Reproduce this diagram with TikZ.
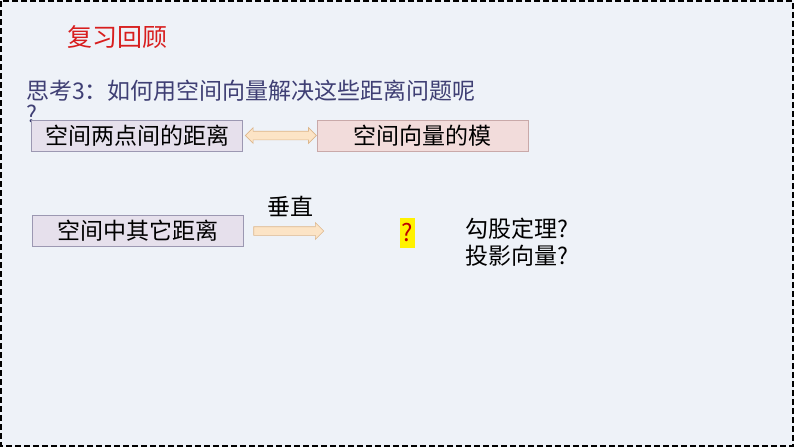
\documentclass[tikz,border=0pt]{standalone}
\usepackage{fontspec}
\usepackage{tikz}
\usetikzlibrary{positioning,shapes.arrows}
\setmainfont{Noto Sans CJK SC}
\definecolor{bgblue}{HTML}{EEF2F8}
\definecolor{lav}{HTML}{E6E0EC}
\definecolor{lavline}{HTML}{9C98B2}
\definecolor{rose}{HTML}{F2DCDB}
\definecolor{roseline}{HTML}{C9A9A9}
\definecolor{peach}{HTML}{FCE4C6}
\definecolor{peachline}{HTML}{DDB78C}
\definecolor{slate}{HTML}{3F3F74}
\definecolor{titlered}{HTML}{D81E1E}
\tikzstyle{block} = [rectangle, draw=lavline, fill=lav, line width=0.8pt, minimum width=211pt, minimum height=31pt, inner sep=0pt, font=\fontsize{23}{27}\selectfont]
\tikzstyle{fat} = [draw=peachline, fill=peach, line width=0.6pt, inner sep=0pt, text height=4pt, text depth=4pt, minimum width=0pt]

\begin{document}
\begin{tikzpicture}[node distance=1pt]
  \useasboundingbox (0pt,0pt) rectangle (794pt,-447pt);
  \fill[bgblue] (0pt,0pt) rectangle (794pt,-447pt);
  \draw[dashed, line width=1.3pt, dash pattern=on 6pt off 3pt] (1pt,-1pt) rectangle (793pt,-446pt);
  \draw (67pt,-37pt)node[anchor=west, text=titlered, inner sep=0pt, font=\fontsize{25}{28}\selectfont](0){复习回顾};
  \draw (26pt,-101pt)node[anchor=west, text=slate, align=left, inner sep=0pt, font=\fontsize{23}{23}\selectfont](1){思考3：如何用空间向量解决这些距离问题呢\\?};
  \draw (137pt,-135.5pt)node[block](2){空间两点间的距离};
  \draw (422.5pt,-135.5pt)node[block, draw=roseline, fill=rose](3){空间向量的模};
  \draw (137.5pt,-231pt)node[block](4){空间中其它距离};
  \node[fat, double arrow, double arrow head extend=3.5pt, minimum height=71pt, right=2pt of 2](5){};
  \node[fat, single arrow, single arrow head extend=4pt, minimum height=70pt, right=10pt of 4](6){};
  \draw (290pt,-206pt)node[font=\fontsize{23}{27}\selectfont](7){垂直};
  \draw (407.5pt,-233pt)node[fill=yellow, text=red!75!black, inner xsep=1.5pt, minimum height=30pt, font=\fontsize{24}{26}\selectfont](8){?};
  \draw (465pt,-242.5pt)node[anchor=west, align=left, inner sep=0pt, font=\fontsize{23}{27}\selectfont](9){勾股定理?\\投影向量?};
\end{tikzpicture}
\end{document}
